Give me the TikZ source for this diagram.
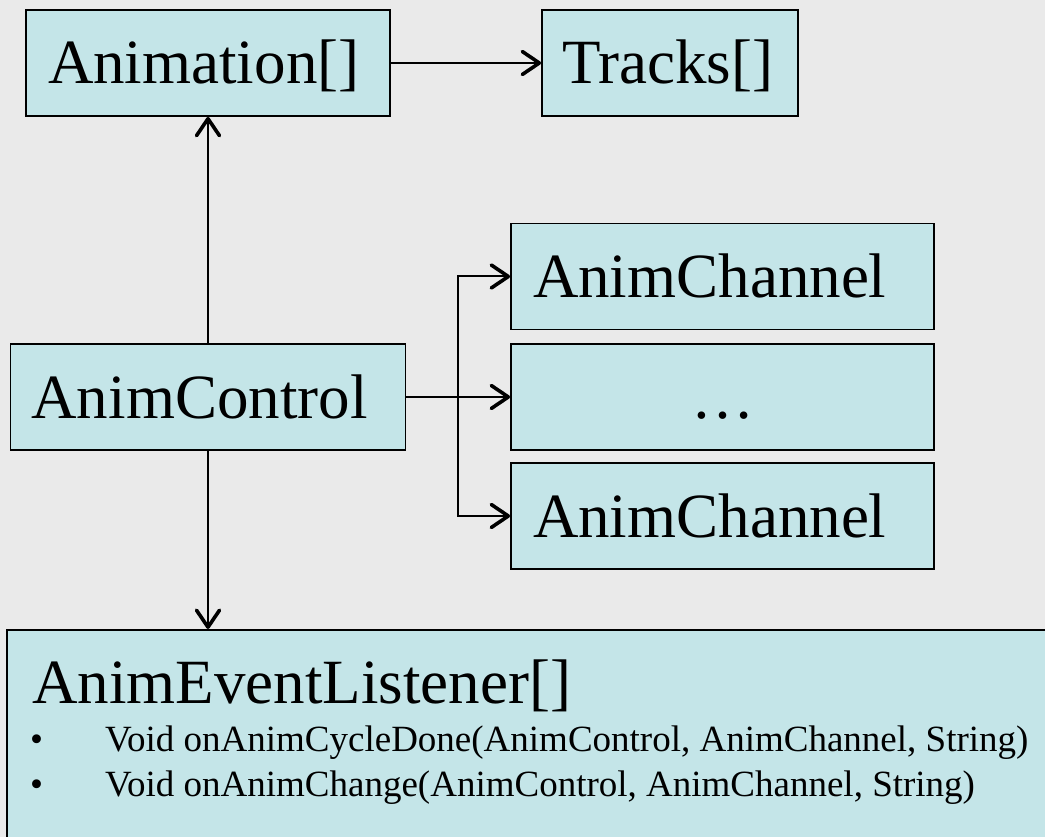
\documentclass[tikz,border=0pt]{standalone}
\usepackage{fontspec}
\setmainfont{Liberation Serif}
\usetikzlibrary{arrows.meta}
\definecolor{bgc}{RGB}{234,234,234}
\definecolor{boxc}{RGB}{196,229,232}
\begin{document}
\begin{tikzpicture}[x=1pt,y=-1pt,
  box/.style={draw=black, line width=1.8pt, fill=boxc, rectangle, minimum height=106pt,
    text height=42pt, text depth=0pt, font=\fontsize{63}{75}\selectfont, align=left},
  arr/.style={line width=2pt, -{Straight Barb[length=17pt,width=23pt,line width=3.6pt,round]}},
  lbl/.style={anchor=base west, inner sep=0pt},
  big/.style={font=\fontsize{63}{75}\selectfont},
  small/.style={font=\fontsize{37}{45}\selectfont}
  ]
\path[use as bounding box, fill=bgc] (0,0) rectangle (1045,837);
\clip (0,0) rectangle (1045,837);

\node[box, inner xsep=22pt, text width=320pt] (anim) at (208,63) {Animation[]};
\node[box, inner xsep=20pt, text width=216pt] (tracks) at (670,63) {Tracks[]};
\node[box, inner xsep=21pt, text width=353pt] (ctrl) at (208,397) {AnimControl};
\node[box, inner xsep=22pt, text width=379pt] (ch1) at (722.5,276.5) {AnimChannel};
\node[box, inner xsep=22pt, text width=379pt, align=center] (dots) at (722.5,397) {…};
\node[box, inner xsep=22pt, text width=379pt] (ch2) at (722.5,516) {AnimChannel};

\node[draw=black, line width=1.8pt, fill=boxc, anchor=north west, minimum width=1060pt,
  minimum height=230pt, inner sep=0pt] (lis) at (6,629) {};
\node[lbl, big] (listitle) at (32,703) {AnimEventListener[]};
\node[lbl, small] (b1) at (30,751) {•};
\node[lbl, small] (m1) at (105,751) {Void onAnimCycleDone(AnimControl, AnimChannel, String)};
\node[lbl, small] (b2) at (30,796) {•};
\node[lbl, small] (m2) at (105,796) {Void onAnimChange(AnimControl, AnimChannel, String)};

\coordinate (br) at (458,397);
\draw[arr] (anim.east) -- (tracks.west);
\draw[arr] (ctrl.north) -- (ctrl.north |- anim.south);
\draw[arr] (ctrl.south) -- (ctrl.south |- lis.north);
\draw[line width=2pt] (ctrl.east) -- (br);
\draw[arr] (br) |- (ch1.west);
\draw[arr] (br) -- (dots.west);
\draw[arr] (br) |- (ch2.west);
\end{tikzpicture}
\end{document}
